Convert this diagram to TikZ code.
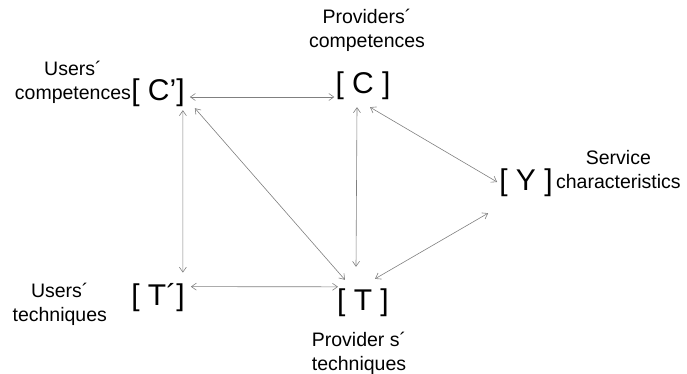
\documentclass[tikz,border=0pt]{standalone}
\usepackage{fontspec}
\setmainfont{Liberation Sans}
\usetikzlibrary{positioning,arrows.meta}

\tikzset{
  var/.style={inner sep=0pt, font=\fontsize{30}{36}\selectfont},
  lbl/.style={inner sep=0pt, align=center, font=\fontsize{19.5}{24}\selectfont},
  link/.style={<->, >={Straight Barb[length=5pt,width=7pt]}, draw=gray, line width=0.6pt}
}

\begin{document}
\begin{tikzpicture}[x=1pt,y=-1pt]
    \useasboundingbox (0,0) rectangle (687,374);

    %% variables
    \node[var] (Cp) at (158,93) {[ C’]};
    \node[var] (C) at (363,86) {[ C ]};
    \node[var] (Y) at (526,183) {[ Y ]};
    \node[var] (Tp) at (158,298) {[ T´]};
    \node[var] (T) at (363,303) {[ T ]};

    %% labels
    \node[lbl, left=0pt of Cp, yshift=11pt] (Cptext) {Users´\\competences};
    \node[lbl, above=20pt of C, xshift=4pt] (Ctext) {Providers´\\competences};
    \node[lbl, right=3pt of Y, yshift=13pt] (Ytext) {Service\\characteristics};
    \node[lbl, left=24pt of Tp, yshift=-6pt] (Tptext) {Users´\\techniques};
    \node[lbl, below=15pt of T, xshift=-4pt] (Ttext) {Provider s´\\techniques};

    %% links
    \draw[link] ([shift={(5,4)}]Cp.east) -- ([shift={(-1,11)}]C.west);
    \draw[link] ([shift={(-2,3)}]Cp.south east) -- ([shift={(-2,-11)}]Tp.north east);
    \draw[link] ([shift={(10,1)}]Cp.south east) -- ([shift={(8,-9)}]T.north west);
    \draw[link] ([shift={(6,3)}]Tp.north east) -- ([shift={(1,-2)}]T.north west);
    \draw[link] ([shift={(-6,7)}]C.south) -- ([shift={(-7,-22)}]T.north);
    \draw[link] ([shift={(7,7)}]C.south) -- ([shift={(-2,-1)}]Y.west);
    \draw[link] ([shift={(-11,16)}]Y.south west) -- ([shift={(12,-10)}]T.north);

\end{tikzpicture}
\end{document}
